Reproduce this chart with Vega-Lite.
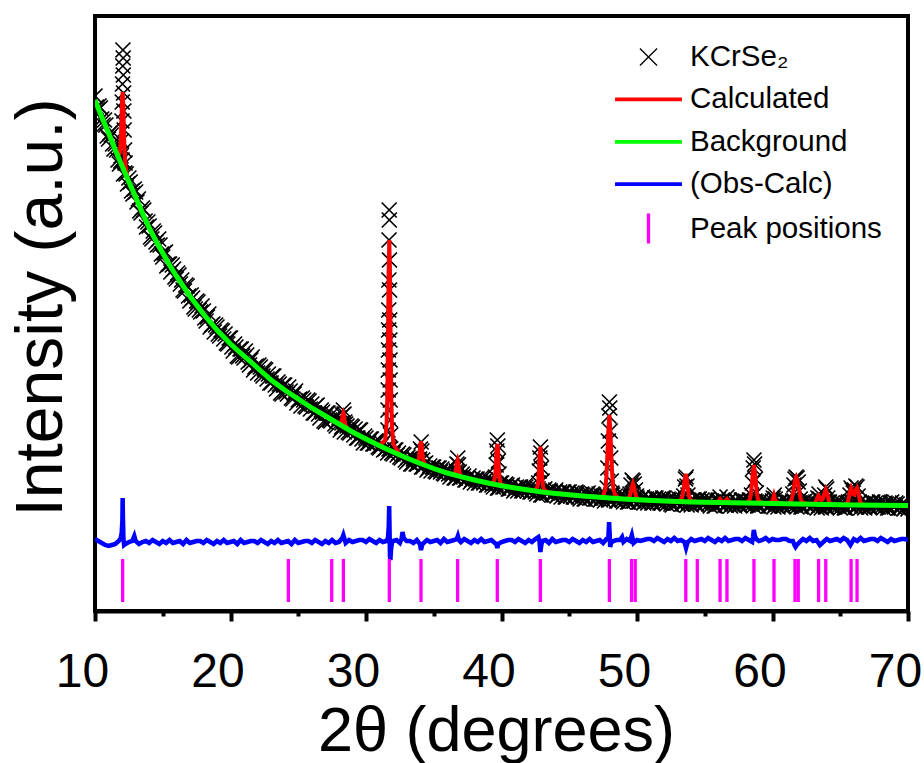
{
"$schema": "https://vega.github.io/schema/vega-lite/v6.json",
"width": 813, "height": 595,
"autosize": {"type": "none"},
"padding": {"left": 95, "top": 16, "right": 16, "bottom": 152},
"background": "white",
"config": {
  "view": {"stroke": "black", "strokeWidth": 4},
  "font": "Liberation Sans",
  "axis": {"grid": false, "domainColor": "black", "tickColor": "black", "labelColor": "black", "titleColor": "black", "domainWidth": 4, "tickWidth": 4, "labelFont": "Liberation Sans", "titleFont": "Liberation Sans", "titleFontWeight": "normal"}
},
"datasets": {
"obs": [
{"tt":10.0,"i":515},{"tt":10.2,"i":501},{"tt":10.4,"i":503},{"tt":10.6,"i":486},{"tt":10.8,"i":486},{"tt":11.0,"i":472},{"tt":11.2,"i":476},{"tt":11.4,"i":462},{"tt":11.6,"i":461},{"tt":11.8,"i":447},{"tt":12.0,"i":451},{"tt":12.2,"i":438},{"tt":12.4,"i":427},{"tt":12.6,"i":429},{"tt":12.8,"i":417},{"tt":13.0,"i":419},{"tt":13.2,"i":412},{"tt":13.4,"i":398},{"tt":13.6,"i":401},{"tt":13.8,"i":384},{"tt":14.0,"i":385},{"tt":14.2,"i":372},{"tt":14.4,"i":378},{"tt":14.6,"i":366},{"tt":14.8,"i":366},{"tt":15.0,"i":354},{"tt":15.2,"i":359},{"tt":15.4,"i":347},{"tt":15.6,"i":339},{"tt":15.8,"i":342},{"tt":16.0,"i":332},{"tt":16.2,"i":336},{"tt":16.4,"i":331},{"tt":16.6,"i":320},{"tt":16.8,"i":325},{"tt":17.0,"i":310},{"tt":17.2,"i":313},{"tt":17.4,"i":302},{"tt":17.6,"i":309},{"tt":17.8,"i":299},{"tt":18.0,"i":300},{"tt":18.2,"i":290},{"tt":18.4,"i":297},{"tt":18.6,"i":286},{"tt":18.8,"i":279},{"tt":19.0,"i":284},{"tt":19.2,"i":275},{"tt":19.4,"i":280},{"tt":19.6,"i":277},{"tt":19.8,"i":267},{"tt":20.0,"i":273},{"tt":20.2,"i":260},{"tt":20.4,"i":264},{"tt":20.6,"i":254},{"tt":20.8,"i":262},{"tt":21.0,"i":253},{"tt":21.2,"i":256},{"tt":21.4,"i":246},{"tt":21.6,"i":254},{"tt":21.8,"i":244},{"tt":22.0,"i":238},{"tt":22.2,"i":244},{"tt":22.4,"i":235},{"tt":22.6,"i":241},{"tt":22.8,"i":237},{"tt":23.0,"i":228},{"tt":23.2,"i":235},{"tt":23.4,"i":222},{"tt":23.6,"i":227},{"tt":23.8,"i":217},{"tt":24.0,"i":226},{"tt":24.2,"i":217},{"tt":24.4,"i":220},{"tt":24.6,"i":212},{"tt":24.8,"i":220},{"tt":25.0,"i":211},{"tt":25.2,"i":205},{"tt":25.4,"i":211},{"tt":25.6,"i":204},{"tt":25.8,"i":210},{"tt":26.0,"i":207},{"tt":26.2,"i":198},{"tt":26.4,"i":206},{"tt":26.6,"i":193},{"tt":26.8,"i":199},{"tt":27.0,"i":189},{"tt":27.2,"i":198},{"tt":27.4,"i":190},{"tt":27.6,"i":193},{"tt":27.8,"i":185},{"tt":28.0,"i":193},{"tt":28.2,"i":184},{"tt":28.4,"i":179},{"tt":28.6,"i":185},{"tt":28.8,"i":178},{"tt":29.0,"i":184},{"tt":29.2,"i":182},{"tt":29.4,"i":173},{"tt":29.6,"i":181},{"tt":29.8,"i":168},{"tt":30.0,"i":173},{"tt":30.2,"i":168},{"tt":30.4,"i":172},{"tt":30.6,"i":167},{"tt":30.8,"i":168},{"tt":31.0,"i":163},{"tt":31.2,"i":167},{"tt":31.4,"i":162},{"tt":31.6,"i":158},{"tt":31.8,"i":162},{"tt":32.0,"i":157},{"tt":32.2,"i":161},{"tt":32.4,"i":158},{"tt":32.6,"i":153},{"tt":32.8,"i":156},{"tt":33.0,"i":149},{"tt":33.2,"i":152},{"tt":33.4,"i":147},{"tt":33.6,"i":152},{"tt":33.8,"i":147},{"tt":34.0,"i":149},{"tt":34.2,"i":144},{"tt":34.4,"i":148},{"tt":34.6,"i":143},{"tt":34.8,"i":140},{"tt":35.0,"i":144},{"tt":35.2,"i":139},{"tt":35.4,"i":143},{"tt":35.6,"i":142},{"tt":35.8,"i":137},{"tt":36.0,"i":141},{"tt":36.2,"i":134},{"tt":36.4,"i":137},{"tt":36.6,"i":133},{"tt":36.8,"i":138},{"tt":37.0,"i":133},{"tt":37.2,"i":135},{"tt":37.4,"i":131},{"tt":37.6,"i":135},{"tt":37.8,"i":131},{"tt":38.0,"i":128},{"tt":38.2,"i":132},{"tt":38.4,"i":128},{"tt":38.6,"i":132},{"tt":38.8,"i":131},{"tt":39.0,"i":126},{"tt":39.2,"i":130},{"tt":39.4,"i":124},{"tt":39.6,"i":127},{"tt":39.8,"i":123},{"tt":40.0,"i":128},{"tt":40.2,"i":124},{"tt":40.4,"i":126},{"tt":40.6,"i":122},{"tt":40.8,"i":126},{"tt":41.0,"i":122},{"tt":41.2,"i":120},{"tt":41.4,"i":124},{"tt":41.6,"i":120},{"tt":41.8,"i":124},{"tt":42.0,"i":123},{"tt":42.2,"i":119},{"tt":42.4,"i":123},{"tt":42.6,"i":117},{"tt":42.8,"i":120},{"tt":43.0,"i":116},{"tt":43.2,"i":122},{"tt":43.4,"i":118},{"tt":43.6,"i":120},{"tt":43.8,"i":116},{"tt":44.0,"i":121},{"tt":44.2,"i":117},{"tt":44.4,"i":114},{"tt":44.6,"i":119},{"tt":44.8,"i":114},{"tt":45.0,"i":119},{"tt":45.2,"i":118},{"tt":45.4,"i":114},{"tt":45.6,"i":118},{"tt":45.8,"i":112},{"tt":46.0,"i":116},{"tt":46.2,"i":112},{"tt":46.4,"i":118},{"tt":46.6,"i":113},{"tt":46.8,"i":116},{"tt":47.0,"i":112},{"tt":47.2,"i":117},{"tt":47.4,"i":113},{"tt":47.6,"i":110},{"tt":47.8,"i":115},{"tt":48.0,"i":111},{"tt":48.2,"i":116},{"tt":48.4,"i":115},{"tt":48.6,"i":110},{"tt":48.8,"i":115},{"tt":49.0,"i":109},{"tt":49.2,"i":113},{"tt":49.4,"i":109},{"tt":49.6,"i":114},{"tt":49.8,"i":110},{"tt":50.0,"i":113},{"tt":50.2,"i":109},{"tt":50.4,"i":114},{"tt":50.6,"i":110},{"tt":50.8,"i":108},{"tt":51.0,"i":112},{"tt":51.2,"i":108},{"tt":51.4,"i":113},{"tt":51.6,"i":112},{"tt":51.8,"i":108},{"tt":52.0,"i":113},{"tt":52.2,"i":107},{"tt":52.4,"i":111},{"tt":52.6,"i":106},{"tt":52.8,"i":112},{"tt":53.0,"i":108},{"tt":53.2,"i":111},{"tt":53.4,"i":107},{"tt":53.6,"i":112},{"tt":53.8,"i":108},{"tt":54.0,"i":106},{"tt":54.2,"i":111},{"tt":54.4,"i":107},{"tt":54.6,"i":112},{"tt":54.8,"i":111},{"tt":55.0,"i":107},{"tt":55.2,"i":111},{"tt":55.4,"i":105},{"tt":55.6,"i":109},{"tt":55.8,"i":105},{"tt":56.0,"i":111},{"tt":56.2,"i":107},{"tt":56.4,"i":110},{"tt":56.6,"i":106},{"tt":56.8,"i":111},{"tt":57.0,"i":107},{"tt":57.2,"i":105},{"tt":57.4,"i":110},{"tt":57.6,"i":106},{"tt":57.8,"i":111},{"tt":58.0,"i":110},{"tt":58.2,"i":106},{"tt":58.4,"i":111},{"tt":58.6,"i":105},{"tt":58.8,"i":109},{"tt":59.0,"i":105},{"tt":59.2,"i":111},{"tt":59.4,"i":107},{"tt":59.6,"i":109},{"tt":59.8,"i":105},{"tt":60.0,"i":110},{"tt":60.2,"i":106},{"tt":60.4,"i":104},{"tt":60.6,"i":109},{"tt":60.8,"i":105},{"tt":61.0,"i":110},{"tt":61.2,"i":109},{"tt":61.4,"i":105},{"tt":61.6,"i":110},{"tt":61.8,"i":104},{"tt":62.0,"i":108},{"tt":62.2,"i":104},{"tt":62.4,"i":110},{"tt":62.6,"i":106},{"tt":62.8,"i":109},{"tt":63.0,"i":105},{"tt":63.2,"i":109},{"tt":63.4,"i":105},{"tt":63.6,"i":103},{"tt":63.8,"i":108},{"tt":64.0,"i":104},{"tt":64.2,"i":109},{"tt":64.4,"i":108},{"tt":64.6,"i":104},{"tt":64.8,"i":109},{"tt":65.0,"i":103},{"tt":65.2,"i":107},{"tt":65.4,"i":103},{"tt":65.6,"i":109},{"tt":65.8,"i":105},{"tt":66.0,"i":108},{"tt":66.2,"i":104},{"tt":66.4,"i":109},{"tt":66.6,"i":105},{"tt":66.8,"i":103},{"tt":67.0,"i":108},{"tt":67.2,"i":104},{"tt":67.4,"i":109},{"tt":67.6,"i":108},{"tt":67.8,"i":104},{"tt":68.0,"i":109},{"tt":68.2,"i":103},{"tt":68.4,"i":107},{"tt":68.6,"i":103},{"tt":68.8,"i":109},{"tt":69.0,"i":104},{"tt":69.2,"i":107},{"tt":69.4,"i":103},{"tt":69.6,"i":108},{"tt":69.8,"i":104},{"tt":70.0,"i":102},
{"tt":10.1,"i":504},{"tt":10.3,"i":505},{"tt":10.5,"i":492},{"tt":10.7,"i":491},{"tt":10.9,"i":475},{"tt":11.1,"i":478},{"tt":11.3,"i":467},{"tt":11.5,"i":467},{"tt":11.7,"i":451},{"tt":11.9,"i":450},{"tt":12.1,"i":437},{"tt":12.3,"i":437},{"tt":12.5,"i":433},{"tt":12.7,"i":420},{"tt":12.9,"i":422},{"tt":13.1,"i":409},{"tt":13.3,"i":400},{"tt":13.5,"i":403},{"tt":13.7,"i":390},{"tt":13.9,"i":389},{"tt":14.1,"i":374},{"tt":14.3,"i":380},{"tt":14.5,"i":369},{"tt":14.7,"i":372},{"tt":14.9,"i":357},{"tt":15.1,"i":358},{"tt":15.3,"i":345},{"tt":15.5,"i":347},{"tt":15.7,"i":346},{"tt":15.9,"i":334},{"tt":16.1,"i":338},{"tt":16.3,"i":327},{"tt":16.5,"i":321},{"tt":16.7,"i":326},{"tt":16.9,"i":315},{"tt":17.1,"i":316},{"tt":17.3,"i":304},{"tt":17.5,"i":310},{"tt":17.7,"i":301},{"tt":17.9,"i":305},{"tt":18.1,"i":293},{"tt":18.3,"i":294},{"tt":18.5,"i":284},{"tt":18.7,"i":287},{"tt":18.9,"i":286},{"tt":19.1,"i":277},{"tt":19.3,"i":281},{"tt":19.5,"i":272},{"tt":19.7,"i":268},{"tt":19.9,"i":273},{"tt":20.1,"i":264},{"tt":20.3,"i":267},{"tt":20.5,"i":255},{"tt":20.7,"i":262},{"tt":20.9,"i":255},{"tt":21.1,"i":260},{"tt":21.3,"i":249},{"tt":21.5,"i":251},{"tt":21.7,"i":241},{"tt":21.9,"i":245},{"tt":22.1,"i":246},{"tt":22.3,"i":237},{"tt":22.5,"i":242},{"tt":22.7,"i":232},{"tt":22.9,"i":228},{"tt":23.1,"i":235},{"tt":23.3,"i":226},{"tt":23.5,"i":229},{"tt":23.7,"i":218},{"tt":23.9,"i":226},{"tt":24.1,"i":219},{"tt":24.3,"i":224},{"tt":24.5,"i":213},{"tt":24.7,"i":217},{"tt":24.9,"i":208},{"tt":25.1,"i":212},{"tt":25.3,"i":213},{"tt":25.5,"i":205},{"tt":25.7,"i":211},{"tt":25.9,"i":202},{"tt":26.1,"i":198},{"tt":26.3,"i":205},{"tt":26.5,"i":197},{"tt":26.7,"i":201},{"tt":26.9,"i":190},{"tt":27.1,"i":198},{"tt":27.3,"i":191},{"tt":27.5,"i":197},{"tt":27.7,"i":187},{"tt":27.9,"i":190},{"tt":28.1,"i":181},{"tt":28.3,"i":185},{"tt":28.5,"i":187},{"tt":28.7,"i":179},{"tt":28.9,"i":185},{"tt":29.1,"i":176},{"tt":29.3,"i":173},{"tt":29.5,"i":181},{"tt":29.7,"i":172},{"tt":29.9,"i":175},{"tt":30.1,"i":168},{"tt":30.3,"i":172},{"tt":30.5,"i":167},{"tt":30.7,"i":170},{"tt":30.9,"i":164},{"tt":31.1,"i":165},{"tt":31.3,"i":161},{"tt":31.5,"i":163},{"tt":31.7,"i":162},{"tt":31.9,"i":158},{"tt":32.1,"i":161},{"tt":32.3,"i":156},{"tt":32.5,"i":154},{"tt":32.7,"i":157},{"tt":32.9,"i":151},{"tt":33.1,"i":154},{"tt":33.3,"i":147},{"tt":33.5,"i":152},{"tt":33.7,"i":147},{"tt":33.9,"i":151},{"tt":34.1,"i":144},{"tt":34.3,"i":147},{"tt":34.5,"i":141},{"tt":34.7,"i":145},{"tt":34.9,"i":144},{"tt":35.1,"i":140},{"tt":35.3,"i":143},{"tt":35.5,"i":139},{"tt":35.7,"i":138},{"tt":35.9,"i":141},{"tt":36.1,"i":137},{"tt":36.3,"i":138},{"tt":36.5,"i":133},{"tt":36.7,"i":138},{"tt":36.9,"i":133},{"tt":37.1,"i":137},{"tt":37.3,"i":131},{"tt":37.5,"i":133},{"tt":37.7,"i":129},{"tt":37.9,"i":133},{"tt":38.1,"i":132},{"tt":38.3,"i":128},{"tt":38.5,"i":133},{"tt":38.7,"i":128},{"tt":38.9,"i":126},{"tt":39.1,"i":131},{"tt":39.3,"i":126},{"tt":39.5,"i":128},{"tt":39.7,"i":123},{"tt":39.9,"i":128},{"tt":40.1,"i":124},{"tt":40.3,"i":127},{"tt":40.5,"i":122},{"tt":40.7,"i":125},{"tt":40.9,"i":120},{"tt":41.1,"i":124},{"tt":41.3,"i":124},{"tt":41.5,"i":120},{"tt":41.7,"i":125},{"tt":41.9,"i":120},{"tt":42.1,"i":119},{"tt":42.3,"i":123},{"tt":42.5,"i":119},{"tt":42.7,"i":122},{"tt":42.9,"i":116},{"tt":43.1,"i":121},{"tt":43.3,"i":118},{"tt":43.5,"i":121},{"tt":43.7,"i":116},{"tt":43.9,"i":119},{"tt":44.1,"i":115},{"tt":44.3,"i":119},{"tt":44.5,"i":119},{"tt":44.7,"i":114},{"tt":44.9,"i":119},{"tt":45.1,"i":115},{"tt":45.3,"i":114},{"tt":45.5,"i":119},{"tt":45.7,"i":114},{"tt":45.9,"i":117},{"tt":46.1,"i":112},{"tt":46.3,"i":117},{"tt":46.5,"i":113},{"tt":46.7,"i":117},{"tt":46.9,"i":112},{"tt":47.1,"i":115},{"tt":47.3,"i":111},{"tt":47.5,"i":115},{"tt":47.7,"i":115},{"tt":47.9,"i":111},{"tt":48.1,"i":116},{"tt":48.3,"i":112},{"tt":48.5,"i":110},{"tt":48.7,"i":115},{"tt":48.9,"i":111},{"tt":49.1,"i":114},{"tt":49.3,"i":109},{"tt":49.5,"i":114},{"tt":49.7,"i":110},{"tt":49.9,"i":114},{"tt":50.1,"i":109},{"tt":50.3,"i":112},{"tt":50.5,"i":108},{"tt":50.7,"i":112},{"tt":50.9,"i":112},{"tt":51.1,"i":108},{"tt":51.3,"i":113},{"tt":51.5,"i":109},{"tt":51.7,"i":108},{"tt":51.9,"i":113},{"tt":52.1,"i":109},{"tt":52.3,"i":112},{"tt":52.5,"i":107},{"tt":52.7,"i":111},{"tt":52.9,"i":108},{"tt":53.1,"i":112},{"tt":53.3,"i":107},{"tt":53.5,"i":110},{"tt":53.7,"i":106},{"tt":53.9,"i":110},{"tt":54.1,"i":111},{"tt":54.3,"i":107},{"tt":54.5,"i":112},{"tt":54.7,"i":108},{"tt":54.9,"i":107},{"tt":55.1,"i":111},{"tt":55.3,"i":107},{"tt":55.5,"i":110},{"tt":55.7,"i":105},{"tt":55.9,"i":110},{"tt":56.1,"i":107},{"tt":56.3,"i":111},{"tt":56.5,"i":106},{"tt":56.7,"i":109},{"tt":56.9,"i":105},{"tt":57.1,"i":109},{"tt":57.3,"i":110},{"tt":57.5,"i":106},{"tt":57.7,"i":111},{"tt":57.9,"i":107},{"tt":58.1,"i":106},{"tt":58.3,"i":111},{"tt":58.5,"i":107},{"tt":58.7,"i":110},{"tt":58.9,"i":105},{"tt":59.1,"i":110},{"tt":59.3,"i":107},{"tt":59.5,"i":110},{"tt":59.7,"i":105},{"tt":59.9,"i":108},{"tt":60.1,"i":104},{"tt":60.3,"i":108},{"tt":60.5,"i":109},{"tt":60.7,"i":105},{"tt":60.9,"i":110},{"tt":61.1,"i":106},{"tt":61.3,"i":105},{"tt":61.5,"i":110},{"tt":61.7,"i":106},{"tt":61.9,"i":109},{"tt":62.1,"i":104},{"tt":62.3,"i":109},{"tt":62.5,"i":106},{"tt":62.7,"i":110},{"tt":62.9,"i":105},{"tt":63.1,"i":108},{"tt":63.3,"i":103},{"tt":63.5,"i":107},{"tt":63.7,"i":108},{"tt":63.9,"i":104},{"tt":64.1,"i":109},{"tt":64.3,"i":105},{"tt":64.5,"i":104},{"tt":64.7,"i":109},{"tt":64.9,"i":105},{"tt":65.1,"i":108},{"tt":65.3,"i":103},{"tt":65.5,"i":108},{"tt":65.7,"i":105},{"tt":65.9,"i":109},{"tt":66.1,"i":104},{"tt":66.3,"i":107},{"tt":66.5,"i":103},{"tt":66.7,"i":107},{"tt":66.9,"i":108},{"tt":67.1,"i":104},{"tt":67.3,"i":109},{"tt":67.5,"i":105},{"tt":67.7,"i":104},{"tt":67.9,"i":109},{"tt":68.1,"i":105},{"tt":68.3,"i":108},{"tt":68.5,"i":103},{"tt":68.7,"i":108},{"tt":68.9,"i":105},{"tt":69.1,"i":108},{"tt":69.3,"i":103},{"tt":69.5,"i":106},{"tt":69.7,"i":102},{"tt":69.9,"i":106},
{"tt":11.92,"i":455},{"tt":11.96,"i":470},{"tt":11.99,"i":490},{"tt":12.01,"i":509},{"tt":12.03,"i":527},{"tt":12.05,"i":545},{"tt":12.06,"i":561},{"tt":12.08,"i":553},{"tt":12.09,"i":536},{"tt":12.11,"i":518},{"tt":12.13,"i":500},{"tt":12.15,"i":481},{"tt":12.18,"i":461},{"tt":12.22,"i":448},
{"tt":28.22,"i":188},{"tt":28.28,"i":196},{"tt":28.33,"i":201},{"tt":28.38,"i":197},{"tt":28.44,"i":189},
{"tt":31.62,"i":181},{"tt":31.63,"i":201},{"tt":31.64,"i":221},{"tt":31.65,"i":241},{"tt":31.66,"i":261},{"tt":31.67,"i":281},{"tt":31.68,"i":301},{"tt":31.69,"i":331},{"tt":31.70,"i":371},{"tt":31.71,"i":401},{"tt":31.72,"i":391},{"tt":31.73,"i":351},{"tt":31.74,"i":321},{"tt":31.75,"i":291},{"tt":31.76,"i":271},{"tt":31.77,"i":251},{"tt":31.78,"i":231},{"tt":31.79,"i":211},{"tt":31.80,"i":191},{"tt":31.82,"i":176},
{"tt":33.96,"i":152},{"tt":34.02,"i":162},{"tt":34.07,"i":169},{"tt":34.12,"i":160},{"tt":34.18,"i":151},
{"tt":36.66,"i":140},{"tt":36.71,"i":147},{"tt":36.77,"i":153},{"tt":36.82,"i":146},{"tt":36.88,"i":139},
{"tt":39.56,"i":134},{"tt":39.61,"i":146},{"tt":39.65,"i":160},{"tt":39.69,"i":171},{"tt":39.73,"i":165},{"tt":39.77,"i":150},{"tt":39.82,"i":137},
{"tt":42.74,"i":128},{"tt":42.79,"i":140},{"tt":42.83,"i":153},{"tt":42.87,"i":164},{"tt":42.91,"i":158},{"tt":42.95,"i":143},{"tt":43.0,"i":130},
{"tt":47.8,"i":123},{"tt":47.85,"i":143},{"tt":47.89,"i":170},{"tt":47.93,"i":195},{"tt":47.96,"i":209},{"tt":47.99,"i":203},{"tt":48.02,"i":180},{"tt":48.06,"i":153},{"tt":48.1,"i":130},{"tt":48.15,"i":118},
{"tt":49.48,"i":117},{"tt":49.56,"i":126},{"tt":49.64,"i":131},{"tt":49.72,"i":130},{"tt":49.8,"i":127},{"tt":49.88,"i":121},{"tt":49.96,"i":115},
{"tt":53.45,"i":115},{"tt":53.52,"i":124},{"tt":53.58,"i":132},{"tt":53.63,"i":134},{"tt":53.69,"i":125},{"tt":53.76,"i":116},
{"tt":56.13,"i":114},{"tt":56.64,"i":114},
{"tt":58.45,"i":116},{"tt":58.52,"i":128},{"tt":58.58,"i":143},{"tt":58.63,"i":151},{"tt":58.68,"i":147},{"tt":58.74,"i":132},{"tt":58.81,"i":118},
{"tt":60.05,"i":113},{"tt":60.13,"i":116},{"tt":60.2,"i":112},
{"tt":61.5,"i":117},{"tt":61.58,"i":126},{"tt":61.66,"i":132},{"tt":61.74,"i":134},{"tt":61.82,"i":133},{"tt":61.9,"i":129},{"tt":61.98,"i":120},{"tt":62.05,"i":112},
{"tt":63.35,"i":113},{"tt":63.43,"i":117},{"tt":63.5,"i":112},{"tt":63.85,"i":116},{"tt":63.93,"i":124},{"tt":64.0,"i":122},{"tt":64.08,"i":113},
{"tt":65.72,"i":116},{"tt":65.8,"i":123},{"tt":65.88,"i":121},{"tt":65.96,"i":118},{"tt":66.05,"i":121},{"tt":66.15,"i":125},{"tt":66.24,"i":124},{"tt":66.32,"i":115}
],
"calc": [
{"tt":10.0,"i":511},{"tt":10.5,"i":494},{"tt":11.0,"i":478},{"tt":11.5,"i":461},{"tt":11.74,"i":456},{"tt":11.84,"i":459},{"tt":11.89,"i":467},{"tt":11.94,"i":484},{"tt":11.99,"i":509},{"tt":12.04,"i":519},{"tt":12.09,"i":506},{"tt":12.14,"i":477},{"tt":12.19,"i":458},{"tt":12.24,"i":446},{"tt":12.34,"i":437},{"tt":12.5,"i":429},{"tt":13.0,"i":414},{"tt":13.5,"i":398},{"tt":14.0,"i":383},{"tt":14.5,"i":370},{"tt":15.0,"i":358},{"tt":15.5,"i":346},{"tt":16.0,"i":335},{"tt":16.5,"i":325},{"tt":17.0,"i":315},{"tt":17.5,"i":306},{"tt":18.0,"i":297},{"tt":18.5,"i":289},{"tt":19.0,"i":281},{"tt":19.5,"i":274},{"tt":20.0,"i":267},{"tt":21,"i":255},{"tt":22,"i":243},{"tt":23,"i":231},{"tt":24,"i":221},{"tt":25,"i":212},{"tt":26,"i":203},{"tt":27,"i":195},{"tt":28,"i":187},{"tt":28.13,"i":188},{"tt":28.18,"i":189},{"tt":28.23,"i":192},{"tt":28.28,"i":196},{"tt":28.33,"i":198},{"tt":28.38,"i":196},{"tt":28.43,"i":190},{"tt":28.48,"i":186},{"tt":28.53,"i":185},{"tt":28.63,"i":182},{"tt":29,"i":179},{"tt":30,"i":172},{"tt":31,"i":165.3},{"tt":31.42,"i":171},{"tt":31.52,"i":187},{"tt":31.57,"i":214},{"tt":31.62,"i":267},{"tt":31.67,"i":340},{"tt":31.72,"i":371},{"tt":31.77,"i":339},{"tt":31.82,"i":266},{"tt":31.87,"i":212},{"tt":31.92,"i":184},{"tt":32.02,"i":167},{"tt":32.5,"i":156},{"tt":33,"i":153},{"tt":33.5,"i":150},{"tt":33.76,"i":149},{"tt":33.86,"i":150.6},{"tt":33.91,"i":153},{"tt":33.96,"i":158.7},{"tt":34.01,"i":166.5},{"tt":34.06,"i":169.7},{"tt":34.11,"i":166},{"tt":34.16,"i":157.8},{"tt":34.21,"i":152},{"tt":34.26,"i":148.8},{"tt":34.36,"i":146.3},{"tt":34.5,"i":145},{"tt":35,"i":142.5},{"tt":35.5,"i":140},{"tt":36,"i":138},{"tt":36.4,"i":136.5},{"tt":36.46,"i":137},{"tt":36.56,"i":137.8},{"tt":36.61,"i":139.6},{"tt":36.66,"i":143.4},{"tt":36.71,"i":148.8},{"tt":36.76,"i":151},{"tt":36.81,"i":148.4},{"tt":36.86,"i":142.6},{"tt":36.91,"i":138.4},{"tt":36.96,"i":136.2},{"tt":37.06,"i":134.4},{"tt":37.5,"i":132.5},{"tt":38,"i":131},{"tt":38.5,"i":129.5},{"tt":39,"i":128},{"tt":39.3,"i":127.2},{"tt":39.39,"i":128.6},{"tt":39.49,"i":131.6},{"tt":39.54,"i":136.5},{"tt":39.59,"i":146.8},{"tt":39.64,"i":161},{"tt":39.69,"i":167},{"tt":39.74,"i":160.8},{"tt":39.79,"i":146},{"tt":39.84,"i":135.5},{"tt":39.89,"i":130.3},{"tt":39.99,"i":126.6},{"tt":40.5,"i":124},{"tt":41,"i":123},{"tt":41.5,"i":122},{"tt":42,"i":121},{"tt":42.5,"i":120},{"tt":42.57,"i":121.8},{"tt":42.67,"i":125.1},{"tt":42.72,"i":130.6},{"tt":42.77,"i":142},{"tt":42.82,"i":157.5},{"tt":42.87,"i":164.4},{"tt":42.92,"i":157.3},{"tt":42.97,"i":141.7},{"tt":43.02,"i":130},{"tt":43.07,"i":124.4},{"tt":43.17,"i":120.8},{"tt":43.5,"i":118.5},{"tt":44,"i":118},{"tt":45,"i":116},{"tt":46,"i":115},{"tt":47,"i":114},{"tt":47.4,"i":113.6},{"tt":47.51,"i":116},{"tt":47.66,"i":121.6},{"tt":47.74,"i":134.2},{"tt":47.81,"i":154.6},{"tt":47.88,"i":179},{"tt":47.96,"i":196},{"tt":48.04,"i":179},{"tt":48.11,"i":154.5},{"tt":48.18,"i":134},{"tt":48.26,"i":121.3},{"tt":48.41,"i":115.5},{"tt":48.7,"i":112.5},{"tt":49,"i":112},{"tt":49.25,"i":112.3},{"tt":49.4,"i":113.3},{"tt":49.48,"i":115.6},{"tt":49.55,"i":119.6},{"tt":49.62,"i":124.3},{"tt":49.7,"i":127.5},{"tt":49.78,"i":124.2},{"tt":49.85,"i":119.3},{"tt":49.92,"i":115.2},{"tt":50.0,"i":112.6},{"tt":50.15,"i":111.5},{"tt":50.5,"i":111},{"tt":51,"i":110.5},{"tt":52,"i":110},{"tt":53,"i":109.5},{"tt":53.15,"i":110.2},{"tt":53.3,"i":112.2},{"tt":53.38,"i":116.3},{"tt":53.45,"i":123.3},{"tt":53.52,"i":131.6},{"tt":53.6,"i":137.2},{"tt":53.68,"i":131.5},{"tt":53.75,"i":123.1},{"tt":53.82,"i":116.1},{"tt":53.9,"i":111.8},{"tt":54.05,"i":109.8},{"tt":54.5,"i":108.9},{"tt":55,"i":108.75},{"tt":55.7,"i":108.6},{"tt":55.9,"i":108.5},{"tt":56.0,"i":109.7},{"tt":56.13,"i":112},{"tt":56.26,"i":109.7},{"tt":56.38,"i":108.5},{"tt":56.5,"i":109.7},{"tt":56.64,"i":112},{"tt":56.77,"i":109.5},{"tt":56.9,"i":108.3},{"tt":57.5,"i":108.1},{"tt":58.1,"i":108},{"tt":58.18,"i":109},{"tt":58.33,"i":111.7},{"tt":58.41,"i":117.4},{"tt":58.48,"i":126.9},{"tt":58.55,"i":138.3},{"tt":58.63,"i":145.9},{"tt":58.71,"i":138.3},{"tt":58.78,"i":126.8},{"tt":58.85,"i":117.3},{"tt":58.93,"i":111.6},{"tt":59.08,"i":108.9},{"tt":59.6,"i":107.6},{"tt":59.81,"i":108.3},{"tt":59.96,"i":109.5},{"tt":60.03,"i":111.5},{"tt":60.11,"i":115.5},{"tt":60.19,"i":111.5},{"tt":60.26,"i":109.5},{"tt":60.41,"i":108.2},{"tt":60.8,"i":107.3},{"tt":61.1,"i":107.2},{"tt":61.3,"i":108.5},{"tt":61.42,"i":112},{"tt":61.5,"i":117},{"tt":61.58,"i":124},{"tt":61.66,"i":131},{"tt":61.75,"i":134},{"tt":61.84,"i":131},{"tt":61.92,"i":125},{"tt":62.0,"i":118},{"tt":62.08,"i":112},{"tt":62.2,"i":108.5},{"tt":62.6,"i":107},{"tt":62.95,"i":106.9},{"tt":63.1,"i":107.8},{"tt":63.18,"i":109},{"tt":63.25,"i":111},{"tt":63.32,"i":113.7},{"tt":63.4,"i":115.5},{"tt":63.48,"i":113.7},{"tt":63.55,"i":111.5},{"tt":63.62,"i":111},{"tt":63.7,"i":112},{"tt":63.78,"i":115},{"tt":63.85,"i":118.5},{"tt":63.93,"i":121.5},{"tt":64.01,"i":118.5},{"tt":64.08,"i":115},{"tt":64.15,"i":110.5},{"tt":64.23,"i":108},{"tt":64.38,"i":106.8},{"tt":65,"i":106},{"tt":65.35,"i":106.5},{"tt":65.5,"i":107.7},{"tt":65.58,"i":110},{"tt":65.65,"i":114.5},{"tt":65.72,"i":119.6},{"tt":65.8,"i":123},{"tt":65.88,"i":120},{"tt":65.95,"i":117},{"tt":66.02,"i":116.5},{"tt":66.09,"i":118.5},{"tt":66.16,"i":121.5},{"tt":66.24,"i":123},{"tt":66.32,"i":119.6},{"tt":66.39,"i":114.5},{"tt":66.46,"i":110},{"tt":66.54,"i":107.7},{"tt":66.69,"i":106.5},{"tt":67,"i":106},{"tt":68,"i":106},{"tt":69,"i":105.7},{"tt":70,"i":105.5}
],
"bg": [
{"tt":10.0,"i":511},{"tt":10.5,"i":494},{"tt":11,"i":478},{"tt":11.5,"i":461},{"tt":12,"i":445},{"tt":12.5,"i":429},{"tt":13,"i":414},{"tt":13.5,"i":398},{"tt":14,"i":383},{"tt":14.5,"i":370},{"tt":15,"i":358},{"tt":15.5,"i":346},{"tt":16,"i":335},{"tt":16.5,"i":325},{"tt":17,"i":315},{"tt":17.5,"i":306},{"tt":18,"i":297},{"tt":18.5,"i":289},{"tt":19,"i":281},{"tt":19.5,"i":274},{"tt":20,"i":267},{"tt":21,"i":255},{"tt":22,"i":243},{"tt":23,"i":231},{"tt":24,"i":221},{"tt":25,"i":212},{"tt":26,"i":203},{"tt":27,"i":195},{"tt":28,"i":187},{"tt":29,"i":179},{"tt":30,"i":172},{"tt":31,"i":165.3},{"tt":32,"i":159},{"tt":33,"i":153},{"tt":34,"i":147.5},{"tt":35,"i":142.5},{"tt":36,"i":138},{"tt":37,"i":134.3},{"tt":38,"i":131},{"tt":39,"i":128},{"tt":40,"i":125.3},{"tt":41,"i":123},{"tt":42,"i":121},{"tt":43,"i":119},{"tt":44,"i":117.6},{"tt":45,"i":116.3},{"tt":46,"i":115},{"tt":47,"i":114},{"tt":48,"i":113},{"tt":49,"i":112},{"tt":50,"i":111.2},{"tt":52,"i":110},{"tt":54,"i":109},{"tt":56,"i":108.5},{"tt":58,"i":108},{"tt":60,"i":107.5},{"tt":62,"i":107},{"tt":64,"i":106.5},{"tt":66,"i":106},{"tt":68,"i":105.8},{"tt":70,"i":105.5}
],
"diff": [
{"tt":10.0,"i":72},{"tt":10.25,"i":70},{"tt":10.5,"i":68},{"tt":10.75,"i":66},{"tt":11.0,"i":65},{"tt":11.25,"i":66},{"tt":11.5,"i":67},{"tt":11.75,"i":70},{"tt":11.9,"i":73},{"tt":11.97,"i":78},{"tt":12.02,"i":90},{"tt":12.04,"i":113},{"tt":12.06,"i":95},{"tt":12.1,"i":72},{"tt":12.15,"i":66},{"tt":12.25,"i":67},{"tt":12.5,"i":69},{"tt":12.75,"i":70},{"tt":12.9,"i":75},{"tt":13.0,"i":70},{"tt":13.25,"i":67},{"tt":13.5,"i":69},
{"tt":13.75,"i":70},{"tt":14.0,"i":68},{"tt":14.25,"i":71},{"tt":14.5,"i":69},{"tt":14.75,"i":67},{"tt":15.0,"i":70},{"tt":15.25,"i":68},{"tt":15.5,"i":71},{"tt":15.75,"i":68},{"tt":16.0,"i":69},{"tt":16.25,"i":70},{"tt":16.5,"i":67},{"tt":16.75,"i":71},{"tt":17.0,"i":68},{"tt":17.25,"i":69},{"tt":17.5,"i":70},{"tt":17.75,"i":70},{"tt":18.0,"i":68},{"tt":18.25,"i":71},{"tt":18.5,"i":69},{"tt":18.75,"i":67},{"tt":19.0,"i":70},{"tt":19.25,"i":68},{"tt":19.5,"i":71},{"tt":19.75,"i":68},{"tt":20.0,"i":69},{"tt":20.25,"i":70},{"tt":20.5,"i":67},{"tt":20.75,"i":71},{"tt":21.0,"i":68},{"tt":21.25,"i":69},{"tt":21.5,"i":70},{"tt":21.75,"i":70},{"tt":22.0,"i":68},{"tt":22.25,"i":71},{"tt":22.5,"i":69},{"tt":22.75,"i":67},{"tt":23.0,"i":70},{"tt":23.25,"i":68},{"tt":23.5,"i":71},{"tt":23.75,"i":68},{"tt":24.0,"i":69},{"tt":24.25,"i":70},{"tt":24.5,"i":67},{"tt":24.75,"i":71},{"tt":25.0,"i":68},{"tt":25.25,"i":69},{"tt":25.5,"i":70},{"tt":25.75,"i":70},{"tt":26.0,"i":68},{"tt":26.25,"i":71},{"tt":26.5,"i":69},{"tt":26.75,"i":67},{"tt":27.0,"i":70},{"tt":27.25,"i":68},{"tt":27.5,"i":71},{"tt":27.75,"i":68},{"tt":28.0,"i":69},{"tt":28.25,"i":73},{"tt":28.33,"i":76},{"tt":28.5,"i":68},{"tt":28.75,"i":71},{"tt":29.0,"i":69},{"tt":29.25,"i":70},{"tt":29.5,"i":71},{"tt":29.75,"i":71},{"tt":30.0,"i":69},{"tt":30.25,"i":72},{"tt":30.5,"i":70},{"tt":30.75,"i":68},{"tt":31.0,"i":71},{"tt":31.25,"i":69},{"tt":31.5,"i":70},{"tt":31.62,"i":73},{"tt":31.68,"i":85},{"tt":31.71,"i":105},{"tt":31.74,"i":80},{"tt":31.77,"i":55},{"tt":31.8,"i":51},{"tt":31.85,"i":62},{"tt":31.92,"i":68},{"tt":32.0,"i":70},{"tt":32.25,"i":71},{"tt":32.5,"i":68},{"tt":32.62,"i":72},{"tt":32.7,"i":79},{"tt":32.78,"i":73},{"tt":33.0,"i":70},{"tt":33.25,"i":70},{"tt":33.5,"i":68},{"tt":33.75,"i":71},{"tt":33.98,"i":67},{"tt":34.06,"i":61},{"tt":34.14,"i":66},{"tt":34.25,"i":68},{"tt":34.5,"i":71},{"tt":34.75,"i":69},{"tt":35.0,"i":70},{"tt":35.25,"i":71},{"tt":35.5,"i":68},{"tt":35.75,"i":72},{"tt":36.0,"i":69},{"tt":36.25,"i":70},{"tt":36.5,"i":71},{"tt":36.7,"i":72},{"tt":36.78,"i":75},{"tt":36.86,"i":71},{"tt":37.0,"i":69},{"tt":37.25,"i":72},{"tt":37.5,"i":70},{"tt":37.75,"i":68},{"tt":38.0,"i":71},{"tt":38.25,"i":69},{"tt":38.5,"i":72},{"tt":38.75,"i":69},{"tt":39.0,"i":70},{"tt":39.25,"i":71},{"tt":39.5,"i":68},{"tt":39.62,"i":67},{"tt":39.69,"i":63},{"tt":39.76,"i":67},{"tt":40.0,"i":69},{"tt":40.25,"i":70},{"tt":40.5,"i":71},{"tt":40.75,"i":71},{"tt":41.0,"i":69},{"tt":41.25,"i":72},{"tt":41.5,"i":70},{"tt":41.75,"i":68},{"tt":42.0,"i":71},{"tt":42.25,"i":69},{"tt":42.5,"i":72},{"tt":42.72,"i":74},{"tt":42.8,"i":70},{"tt":42.87,"i":59},{"tt":42.94,"i":66},{"tt":43.0,"i":70},{"tt":43.25,"i":71},{"tt":43.5,"i":68},{"tt":43.75,"i":72},{"tt":44.0,"i":69},{"tt":44.25,"i":70},{"tt":44.5,"i":71},{"tt":44.75,"i":71},{"tt":45.0,"i":69},{"tt":45.25,"i":72},{"tt":45.5,"i":70},{"tt":45.75,"i":68},{"tt":46.0,"i":71},{"tt":46.25,"i":69},{"tt":46.5,"i":72},{"tt":46.75,"i":69},{"tt":47.0,"i":70},{"tt":47.25,"i":71},{"tt":47.5,"i":68},{"tt":47.75,"i":72},{"tt":47.88,"i":72},{"tt":47.94,"i":89},{"tt":47.98,"i":78},{"tt":48.02,"i":64},{"tt":48.08,"i":68},{"tt":48.25,"i":70},{"tt":48.5,"i":71},{"tt":48.75,"i":71},{"tt":48.9,"i":74},{"tt":49.0,"i":69},{"tt":49.25,"i":72},{"tt":49.5,"i":70},{"tt":49.55,"i":73},{"tt":49.62,"i":76},{"tt":49.7,"i":71},{"tt":49.75,"i":68},{"tt":50.0,"i":71},{"tt":50.25,"i":70},{"tt":50.5,"i":71},{"tt":50.75,"i":72},{"tt":51.0,"i":72},{"tt":51.25,"i":70},{"tt":51.5,"i":73},{"tt":51.75,"i":71},{"tt":52.0,"i":69},{"tt":52.25,"i":72},{"tt":52.5,"i":70},{"tt":52.75,"i":73},{"tt":53.0,"i":70},{"tt":53.25,"i":71},{"tt":53.5,"i":69},{"tt":53.56,"i":66},{"tt":53.62,"i":63},{"tt":53.7,"i":67},{"tt":53.75,"i":69},{"tt":54.0,"i":72},{"tt":54.25,"i":70},{"tt":54.5,"i":71},{"tt":54.75,"i":72},{"tt":55.0,"i":70},{"tt":55.25,"i":73},{"tt":55.5,"i":71},{"tt":55.75,"i":69},{"tt":56.0,"i":72},{"tt":56.25,"i":70},{"tt":56.5,"i":73},{"tt":56.75,"i":70},{"tt":57.0,"i":71},{"tt":57.25,"i":72},{"tt":57.5,"i":72},{"tt":57.75,"i":70},{"tt":58.0,"i":73},{"tt":58.25,"i":71},{"tt":58.5,"i":69},{"tt":58.56,"i":74},{"tt":58.62,"i":81},{"tt":58.7,"i":75},{"tt":58.8,"i":72},{"tt":59.0,"i":70},{"tt":59.25,"i":71},{"tt":59.5,"i":73},{"tt":59.75,"i":70},{"tt":60.0,"i":72},{"tt":60.25,"i":71},{"tt":60.5,"i":71},{"tt":60.75,"i":72},{"tt":61.0,"i":72},{"tt":61.25,"i":70},{"tt":61.5,"i":70},{"tt":61.62,"i":66},{"tt":61.7,"i":64},{"tt":61.8,"i":66},{"tt":62.0,"i":69},{"tt":62.25,"i":72},{"tt":62.5,"i":70},{"tt":62.75,"i":73},{"tt":63.0,"i":70},{"tt":63.25,"i":71},{"tt":63.5,"i":66},{"tt":63.75,"i":69},{"tt":64.0,"i":72},{"tt":64.25,"i":70},{"tt":64.5,"i":71},{"tt":64.75,"i":72},{"tt":65.0,"i":70},{"tt":65.25,"i":73},{"tt":65.5,"i":71},{"tt":65.75,"i":66},{"tt":66.0,"i":72},{"tt":66.25,"i":70},{"tt":66.5,"i":73},{"tt":66.75,"i":70},{"tt":67.0,"i":71},{"tt":67.25,"i":72},{"tt":67.5,"i":72},{"tt":67.75,"i":70},{"tt":68.0,"i":73},{"tt":68.25,"i":71},{"tt":68.5,"i":69},{"tt":68.75,"i":72},{"tt":69.0,"i":70},{"tt":69.25,"i":71},{"tt":69.5,"i":72},{"tt":69.75,"i":72},{"tt":70.0,"i":71}
],
"peaks": [
{"tt":12.04},{"tt":24.27},{"tt":27.47},{"tt":28.33},{"tt":31.72},{"tt":34.06},{"tt":36.76},{"tt":39.69},{"tt":42.87},{"tt":47.96},{"tt":49.6},{"tt":49.87},{"tt":53.6},{"tt":54.45},{"tt":56.13},{"tt":56.64},{"tt":58.63},{"tt":60.11},{"tt":61.66},{"tt":61.9},{"tt":63.4},{"tt":63.93},{"tt":65.8},{"tt":66.24}
]
},
"resolve": {"axis": {"x": "independent", "y": "independent"}},
"layer": [
{
  "data": {"name": "obs"},
  "mark": {"type": "point", "size": 692, "filled": false, "strokeWidth": 1.7, "opacity": 1, "clip": true},
  "encoding": {
    "x": {"field": "tt", "type": "quantitative", "scale": {"domain": [10, 70], "nice": false, "zero": false},
      "axis": {"orient": "bottom", "values": [10, 20, 30, 40, 50, 60, 70], "tickSize": 10, "labelFontSize": 48, "labelPadding": 27, "labelOffset": -13, "labelFlush": false, "labelOverlap": false, "labelBound": false, "title": "2θ (degrees)", "titleFontSize": 63, "titleX": 401, "titleY": 139, "titleBaseline": "alphabetic"}},
    "y": {"field": "i", "type": "quantitative", "scale": {"domain": [0, 595], "nice": false, "zero": false},
      "axis": {"orient": "left", "title": "Intensity (a.u.)", "labels": false, "ticks": false, "domain": false, "grid": false, "titleFontSize": 66, "titleX": -34, "titleY": 291, "titleBaseline": "alphabetic", "titleAngle": 270, "titleAlign": "center"}},
    "color": {"datum": "KCrSe\u2082", "type": "nominal",
      "scale": {"domain": ["KCrSe\u2082", "Calculated", "Background", "(Obs-Calc)", "Peak positions"], "range": ["#000000", "#ff0000", "#00ff00", "#0000ff", "#ff00ff"]},
      "legend": {"title": null, "orient": "none", "legendX": 537.5, "legendY": 25, "padding": 0, "symbolSize": 900, "symbolStrokeWidth": 1.3, "rowPadding": 11.4, "labelOffset": 25.5, "labelFontSize": 29.5, "labelFont": "Liberation Sans", "labelColor": "black", "labelLimit": 400}},
    "shape": {"datum": "KCrSe\u2082", "type": "nominal",
      "scale": {"domain": ["KCrSe\u2082", "Calculated", "Background", "(Obs-Calc)", "Peak positions"], "range": ["M-0.57,-0.57L0.57,0.57M-0.57,0.57L0.57,-0.57", "M-2.23,-0.08L2.23,-0.08M-2.23,0L2.23,0M-2.23,0.08L2.23,0.08", "M-2.23,-0.08L2.23,-0.08M-2.23,0L2.23,0M-2.23,0.08L2.23,0.08", "M-2.23,-0.08L2.23,-0.08M-2.23,0L2.23,0M-2.23,0.08L2.23,0.08", "M-0.067,-1L-0.067,1M0,-1L0,1M0.067,-1L0.067,1"]},
      "legend": {"title": null, "orient": "none", "legendX": 537.5, "legendY": 25, "padding": 0, "symbolSize": 900, "symbolStrokeWidth": 1.3, "rowPadding": 11.4, "labelOffset": 25.5, "labelFontSize": 29.5, "labelFont": "Liberation Sans", "labelColor": "black", "labelLimit": 400}}
  }
},
{
  "data": {"name": "calc"},
  "mark": {"type": "line", "strokeWidth": 4, "clip": true},
  "encoding": {
    "x": {"field": "tt", "type": "quantitative", "scale": {"domain": [10, 70], "nice": false, "zero": false}, "axis": null},
    "y": {"field": "i", "type": "quantitative", "scale": {"domain": [0, 595], "nice": false, "zero": false}, "axis": null},
    "color": {"datum": "Calculated", "type": "nominal", "legend": null}
  }
},
{
  "data": {"name": "bg"},
  "mark": {"type": "line", "strokeWidth": 5, "clip": true},
  "encoding": {
    "x": {"field": "tt", "type": "quantitative", "scale": {"domain": [10, 70], "nice": false, "zero": false}, "axis": null},
    "y": {"field": "i", "type": "quantitative", "scale": {"domain": [0, 595], "nice": false, "zero": false}, "axis": null},
    "color": {"datum": "Background", "type": "nominal", "legend": null}
  }
},
{
  "data": {"name": "diff"},
  "mark": {"type": "line", "strokeWidth": 4.5, "clip": true},
  "encoding": {
    "x": {"field": "tt", "type": "quantitative", "scale": {"domain": [10, 70], "nice": false, "zero": false}, "axis": null},
    "y": {"field": "i", "type": "quantitative", "scale": {"domain": [0, 595], "nice": false, "zero": false}, "axis": null},
    "color": {"datum": "(Obs-Calc)", "type": "nominal", "legend": null}
  }
},
{
  "data": {"name": "peaks"},
  "mark": {"type": "rule", "strokeWidth": 3.3},
  "encoding": {
    "x": {"field": "tt", "type": "quantitative", "scale": {"domain": [10, 70], "nice": false, "zero": false},
      "axis": {"orient": "bottom", "values": [15, 25, 35, 45, 55, 65], "tickSize": 5, "labels": false, "domain": false, "title": null}},
    "y": {"datum": 9, "type": "quantitative", "scale": {"domain": [0, 595], "nice": false, "zero": false}, "axis": null},
    "y2": {"datum": 52},
    "color": {"datum": "Peak positions", "type": "nominal", "legend": null}
  }
}
]
}
